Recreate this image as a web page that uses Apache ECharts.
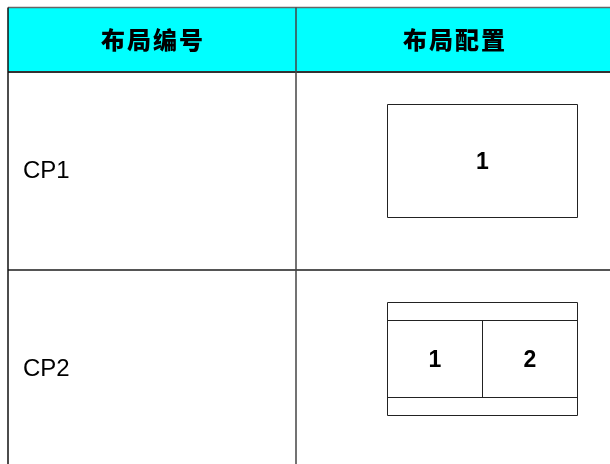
<!DOCTYPE html>
<html>
<head>
<meta charset="utf-8">
<script src="https://cdn.jsdelivr.net/npm/echarts@6/dist/echarts.min.js"></script>
<style>html,body{margin:0;padding:0;background:#fff;}#c{width:610px;height:464px;}</style>
</head>
<body>
<div id="c"></div>
<script>
// ---- data ----
const headers = ['布局编号', '布局配置'];
const layoutIds = ['CP1', 'CP2'];
const layoutPanels = [['1'], ['1', '2']];
const layoutStrips = [false, true];

// ---- geometry (table layout) ----
const colX = [8, 296, 612];
const rowY = [7.5, 72, 270, 468];
const boxW = 190, boxH = 113, stripH = 18, boxShift = -10;
const boxCX = 482;
const headerPitch = 26, headerFont = 24;

const chart = echarts.init(document.getElementById('c'), null, {renderer: 'canvas'});

const cells = [];
headers.forEach((h, c) => cells.push({row: 0, col: c, kind: 'header', text: h}));
layoutIds.forEach((id, r) => {
  cells.push({row: r + 1, col: 0, kind: 'id', text: id});
  cells.push({row: r + 1, col: 1, kind: 'layout', panels: layoutPanels[r], strips: layoutStrips[r]});
});

function renderCell(params, api) {
  const cell = cells[params.dataIndex];
  const x0 = colX[cell.col], x1 = colX[cell.col + 1];
  const y0 = rowY[cell.row], y1 = rowY[cell.row + 1];
  const children = [];
  if (cell.kind === 'header') {
    children.push({type: 'rect', shape: {x: x0, y: y0, width: x1 - x0, height: y1 - y0}, style: {fill: '#00FFFF'}});
    const chars = Array.from(cell.text);
    const cx = (x0 + x1) / 2;
    chars.forEach((ch, i) => {
      children.push({type: 'text', style: {text: ch, x: cx + (i - (chars.length - 1) / 2) * headerPitch, y: (y0 + y1) / 2, align: 'center', verticalAlign: 'middle',
        fill: '#000', font: '900 ' + headerFont + 'px "Noto Sans CJK SC", sans-serif'}});
    });
  } else if (cell.kind === 'id') {
    const cy = (y0 + y1) / 2;
    children.push({type: 'text', style: {text: cell.text, x: 23, y: cy, align: 'left', verticalAlign: 'middle',
      fill: '#000', font: '24px "Liberation Sans", Arial, sans-serif'}});
  } else {
    const cy = (y0 + y1) / 2 + boxShift;
    const bx = Math.floor(boxCX - boxW / 2) + 0.5, by = Math.floor(cy - boxH / 2) + 0.5;
    const ls = {stroke: '#222', lineWidth: 1, fill: null};
    children.push({type: 'rect', shape: {x: bx, y: by, width: boxW, height: boxH}, style: {stroke: '#222', lineWidth: 1, fill: '#fff'}});
    let py0 = by, py1 = by + boxH;
    if (cell.strips) {
      py0 = by + stripH; py1 = by + boxH - stripH;
      children.push({type: 'line', shape: {x1: bx, y1: py0, x2: bx + boxW, y2: py0}, style: ls});
      children.push({type: 'line', shape: {x1: bx, y1: py1, x2: bx + boxW, y2: py1}, style: ls});
    }
    const n = cell.panels.length, pw = boxW / n;
    cell.panels.forEach((p, i) => {
      if (i > 0) {
        const vx = Math.round(bx + pw * i) - 0.5;
        children.push({type: 'line', shape: {x1: vx, y1: py0, x2: vx, y2: py1}, style: ls});
      }
      children.push({type: 'text', style: {text: p, x: bx + pw * (i + 0.5), y: (py0 + py1) / 2 + 2, align: 'center', verticalAlign: 'middle',
        fill: '#000', font: 'bold 23px "Liberation Sans", Arial, sans-serif'}});
    });
  }
  return {type: 'group', children: children};
}

function renderGrid(params, api) {
  const children = [];
  children.push({type: 'line', shape: {x1: colX[0], y1: rowY[0], x2: 612, y2: rowY[0]}, style: {stroke: '#666', lineWidth: 1.5}});
  children.push({type: 'line', shape: {x1: colX[0], y1: rowY[1], x2: 612, y2: rowY[1]}, style: {stroke: '#333', lineWidth: 2}});
  children.push({type: 'line', shape: {x1: colX[0], y1: rowY[2], x2: 612, y2: rowY[2]}, style: {stroke: '#555', lineWidth: 2}});
  children.push({type: 'line', shape: {x1: colX[0], y1: rowY[0], x2: colX[0], y2: 464}, style: {stroke: '#111', lineWidth: 1.5}});
  children.push({type: 'line', shape: {x1: colX[1], y1: rowY[0], x2: colX[1], y2: 464}, style: {stroke: '#444', lineWidth: 1.5}});
  return {type: 'group', children: children};
}

chart.setOption({
  animation: false,
  series: [
    {type: 'custom', coordinateSystem: 'none', renderItem: renderCell, data: cells.map((c, i) => [i]), z: 1},
    {type: 'custom', coordinateSystem: 'none', renderItem: renderGrid, data: [[0]], z: 2}
  ]
});
</script>
</body>
</html>
